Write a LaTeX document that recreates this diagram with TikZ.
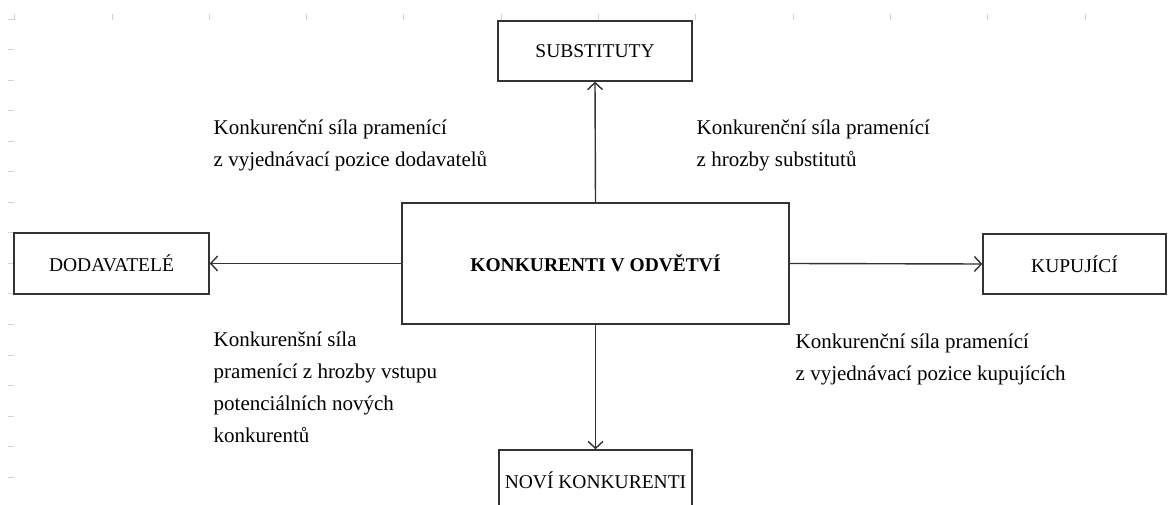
\documentclass[tikz,border=0pt]{standalone}
\usepackage{fontspec}
\setmainfont{Liberation Serif}
\usetikzlibrary{arrows.meta}
\definecolor{gridgray}{RGB}{205,210,222}

\begin{document}
\begin{tikzpicture}[x=1pt, y=-1pt, line width=1.4pt,
  box/.style={draw=black!80, inner sep=0pt, font=\fontsize{19.5}{24}\selectfont},
  lbl/.style={anchor=base west, align=left, inner sep=0pt, font=\fontsize{21}{32}\selectfont},
  arr/.style={draw=black!80, -{Straight Barb[length=7pt,width=15pt]}},
  gridtick/.style={draw=gridgray, line width=1pt}]
  \useasboundingbox (0,0) rectangle (1168,505);
  \foreach \i in {0,...,10}
    \draw[gridtick] (112+97.3*\i,14) -- (112+97.3*\i,20);
  \draw[gridtick] (14,14) -- (14,20) -- (8,20);
  \foreach \i in {0,...,14}
    \draw[gridtick] (8,50+30.5*\i) -- (14,50+30.5*\i);
  \node[box, minimum width=194pt, minimum height=60pt] (sub) at (595,51) {SUBSTITUTY};
  \node[box, minimum width=387pt, minimum height=121pt,
        font={\fontsize{19.5}{24}\selectfont\bfseries}] (centr) at (595.5,263.5) {KONKURENTI V ODVĚTVÍ};
  \node[box, minimum width=195pt, minimum height=61pt] (dod) at (111.5,263.5) {DODAVATELÉ};
  \node[box, minimum width=183pt, minimum height=60pt] (kup) at (1074.5,264) {KUPUJÍCÍ};
  \node[box, minimum width=193pt, minimum height=61pt] (novi) at (595.5,480.5) {NOVÍ KONKURENTI};
  \draw[arr] (centr.north) -- (sub.south);
  \draw[arr] (centr.west) -- (dod.east);
  \draw[arr] (centr.east) -- (kup.west);
  \draw[arr] (centr.south) -- (novi.north);
  \node[lbl] (lbldod) at (213,167) {Konkurenční síla pramenící\\z vyjednávací pozice dodavatelů};
  \node[lbl] (lblsub) at (696,167) {Konkurenční síla pramenící\\z hrozby substitutů};
  \node[lbl] (lblnovi) at (213,442) {Konkurenšní síla\\pramenící z hrozby vstupu\\potenciálních nových\\konkurentů};
  \node[lbl] (lblkup) at (795,380) {Konkurenční síla pramenící\\z vyjednávací pozice kupujících};
\end{tikzpicture}
\end{document}
